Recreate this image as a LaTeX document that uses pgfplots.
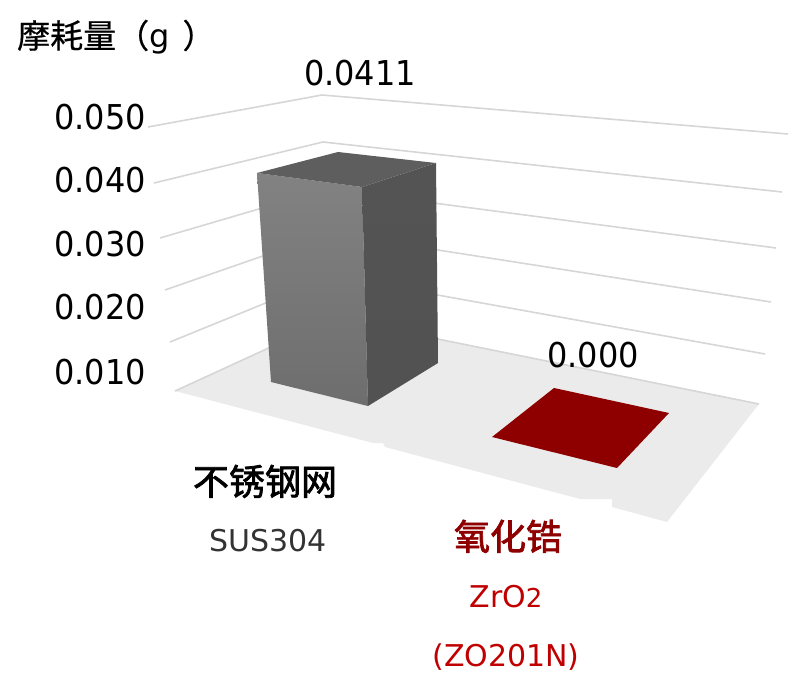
\documentclass[border=0pt]{standalone}
\usepackage{fontspec}
\setmainfont{DejaVu Sans}
\newfontfamily\cjkjp[FakeBold=0.6]{Noto Sans CJK JP}
\newfontfamily\cjksc[FakeBold=2]{Noto Sans CJK SC}
\usepackage{pgfplots}
\pgfplotsset{compat=1.18}

\definecolor{gridc}{HTML}{D6D6D6}
\definecolor{floorc}{HTML}{EBEBEB}
\definecolor{darkred}{HTML}{8E0000}
\definecolor{midred}{HTML}{C00000}

\newcommand{\fs}[1]{\fontsize{#1}{#1}\selectfont}
\tikzset{
	num/.style={inner sep=0pt,yscale=1.07,transform shape},
	txt/.style={anchor=base,inner sep=0pt},
}

\begin{document}
\begin{tikzpicture}
	\begin{axis}
		[
		,scale only axis
		,width=800pt
		,height=692pt
		,hide axis
		,xmin=0, xmax=800
		,ymin=0, ymax=692
		,y dir=reverse
		,clip=false
		,no markers
		]
		% the picture is a perspective view, so values are given in picture pixels
		\path (axis cs:0,0) rectangle (axis cs:800,692);

		% gridlines 0.010 ... 0.050
		\addplot[draw=gridc,line width=1.6pt] coordinates {(148,127) (322,95) (788,134)};
		\addplot[draw=gridc,line width=1.6pt] coordinates {(154,183) (323,142) (782,192)};
		\addplot[draw=gridc,line width=1.6pt] coordinates {(160,238) (327,189) (776,248)};
		\addplot[draw=gridc,line width=1.6pt] coordinates {(165,290) (329,233) (771,302)};
		\addplot[draw=gridc,line width=1.6pt] coordinates {(170,342) (332,276) (765,354)};

		% floor
		\addplot[fill=floorc,draw=none] coordinates {
			(175,391) (334,318) (759,404) (667,522) (612,507) (612,499)
			(580,499) (385,447) (383,443) (373,443)
		} -- cycle;
		\addplot[draw=gridc,line width=1.6pt] coordinates {(175,391) (334,318) (759,404)};

		% SUS304 bar
		\addplot[top color=black!49,bottom color=black!57,draw=none] coordinates {
			(257,173) (362,187) (368,406) (271,382)
		} -- cycle;
		\addplot[top color=black!67,bottom color=black!68,draw=none] coordinates {
			(362,187) (436,163) (438,363) (368,406)
		} -- cycle;
		\addplot[fill=black!63,draw=none] coordinates {
			(257,173) (338,152) (436,163) (362,187)
		} -- cycle;

		% ZrO2 bar, height zero
		\addplot[fill=darkred,draw=none] coordinates {
			(554,388) (669,413) (617,468) (492,437)
		} -- cycle;

		% title
		\node[anchor=base west,inner sep=0pt] at (axis cs:17,48)
			{\fs{33}\cjkjp 摩耗量（\fs{32}\rmfamily g\hspace{13pt}\fs{33}\cjkjp ）};

		% tick labels
		\node[anchor=base east,num] at (axis cs:146,130) {\fs{32}0.050};
		\node[anchor=base east,num] at (axis cs:146,193) {\fs{32}0.040};
		\node[anchor=base east,num] at (axis cs:146,257) {\fs{32}0.030};
		\node[anchor=base east,num] at (axis cs:146,320) {\fs{32}0.020};
		\node[anchor=base east,num] at (axis cs:146,384) {\fs{32}0.010};

		% value labels
		\node[anchor=base,num] at (axis cs:360,86) {\fs{32}0.0411};
		\node[anchor=base,num] at (axis cs:593,367) {\fs{32}0.000};

		% category labels
		\node[txt] at (axis cs:265,495) {\fs{36}\cjksc 不锈钢网};
		\node[txt,text=black!80] at (axis cs:268,551) {\fs{30}SUS304};
		\node[txt,text=darkred] at (axis cs:508,550) {\fs{36}\cjksc 氧化锆};
		\node[txt,text=midred] at (axis cs:506,607) {\fs{30}ZrO\fs{26}2};
		\node[txt,text=midred] at (axis cs:506,666) {\fs{30}(ZO201N)};
	\end{axis}
\end{tikzpicture}
\end{document}
